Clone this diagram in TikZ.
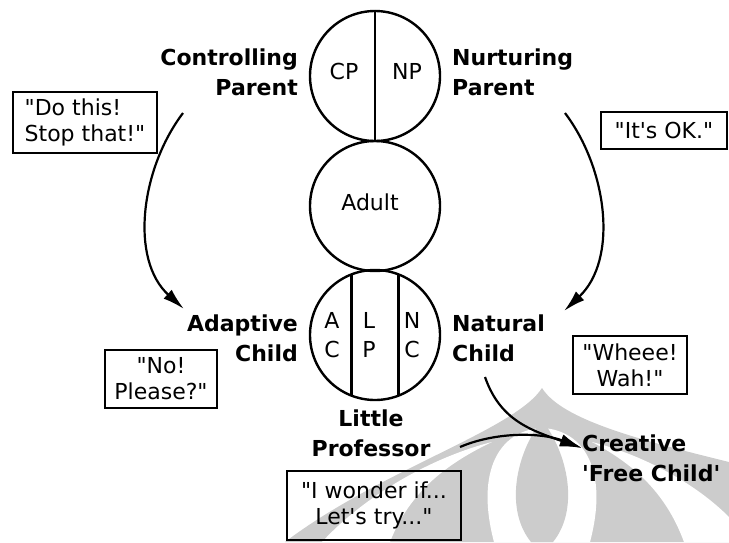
\documentclass[tikz,border=0pt]{standalone}
\usepackage{fontspec}
\setmainfont{DejaVu Sans}[Ligatures=TeXOff]
\usetikzlibrary{arrows.meta,calc}
\begin{document}
\begin{tikzpicture}[x=1pt,y=-1pt,
  ring/.style={draw, circle, line width=2.4pt, minimum size=130pt, inner sep=0pt},
  tag/.style={font=\fontsize{22}{30}\selectfont\bfseries, inner sep=0pt},
  letter/.style={font=\fontsize{22}{26}\selectfont, inner sep=0pt},
  speech/.style={draw, line width=1.8pt, font=\fontsize{22}{26}\selectfont, inner sep=0pt},
  flow/.style={line width=2.2pt, -{Latex[length=22pt,width=12pt]}},
  divider/.style={line width=2.2pt},
  wm/.style={fill=black!20, draw=none},
  wmhole/.style={fill=white, draw=none}
]
\useasboundingbox (0,0) rectangle (729,542);

% background emblem
\begin{scope}
  \clip (0,0) rectangle (729,542);
  \fill[wm] (542,388) .. controls (515,430) and (380,470) .. (285,542)
     -- (729,542) -- (729,462) .. controls (640,440) and (562,420) .. (542,388) -- cycle;
  \fill[wmhole] (322,542) .. controls (370,490) and (440,455) .. (492,442)
     .. controls (450,462) and (410,490) .. (390,542) -- cycle;
  \fill[wmhole] (750,542) .. controls (714,490) and (644,455) .. (592,442)
     .. controls (630,462) and (665,490) .. (684,542) -- cycle;
  \fill[wmhole] (542,428) .. controls (500,430) and (475,470) .. (494,542)
     -- (590,542) .. controls (609,470) and (584,430) .. (542,428) -- cycle;
  \fill[wm] (542,420) .. controls (515,455) and (505,510) .. (531,542)
     -- (553,542) .. controls (579,510) and (569,455) .. (542,420) -- cycle;
\end{scope}

% ego states
\node[ring] (parent) at (375,76) {};
\node[ring] (adult) at (375,206) {};
\node[ring] (child) at (375,335) {};

\draw[divider] (parent.north) -- (parent.south);
\draw[divider] ($(child.center)+(-23.5,-60.6)$) -- ($(child.center)+(-23.5,60.6)$);
\draw[divider] ($(child.center)+(23.5,-60.6)$) -- ($(child.center)+(23.5,60.6)$);

\node[letter] (cp) at (344,71) {CP};
\node[letter] (np) at (407,71) {NP};
\node[letter] (ad) at (370,202) {Adult};
\node[letter] (a1) at (332,320) {A};
\node[letter] (c1) at (332,349) {C};
\node[letter] (l1) at (369,320) {L};
\node[letter] (p1) at (369,349) {P};
\node[letter] (n1) at (412,320) {N};
\node[letter] (c2) at (412,349) {C};

% labels
\node[tag, anchor=east, align=right] (ctrl) at (298,72) {Controlling\\Parent};
\node[tag, anchor=west, align=left] (nurt) at (452,72) {Nurturing\\Parent};
\node[tag, anchor=east, align=right] (adap) at (298,338) {Adaptive\\Child};
\node[tag, anchor=west, align=left] (natu) at (452,338) {Natural\\Child};
\node[tag, align=center] (prof) at (371,433) {Little\\Professor};
\node[tag, anchor=west, align=left] (free) at (582,458) {Creative\\'Free Child'};

% speech boxes
\node[speech, minimum width=144pt, minimum height=61pt, align=left] (s1) at (85,122.5) {"Do this!\\Stop that!"};
\node[speech, minimum width=126pt, minimum height=37pt] (s2) at (664,130.5) {"It's OK."};
\node[speech, minimum width=112pt, minimum height=58pt, align=center] (s3) at (161,379) {"No!\\Please?"};
\node[speech, minimum width=114pt, minimum height=58pt, align=center] (s4) at (630,365) {"Wheee!\\Wah!"};
\node[speech, minimum width=174pt, minimum height=69pt, align=center] (s5) at (374,505.5) {"I wonder if...\\Let's try..."};

% arrows
\coordinate (cpOut) at (183,113);
\coordinate (acIn) at (184,309);
\coordinate (npOut) at (565,113);
\coordinate (ncIn) at (564,311);
\coordinate (ncOut) at (485,377);
\coordinate (lpOut) at (460,447);
\coordinate (fcIn) at (582,448);

\draw[flow] (cpOut) .. controls (140,170) and (130,260) .. (acIn);
\draw[flow] (npOut) .. controls (608,170) and (618,260) .. (ncIn);
\draw[flow] (ncOut) .. controls (500,420) and (530,430) .. (fcIn);
\draw[flow] (lpOut) .. controls (495,432) and (540,432) .. (fcIn);
\end{tikzpicture}
\end{document}
